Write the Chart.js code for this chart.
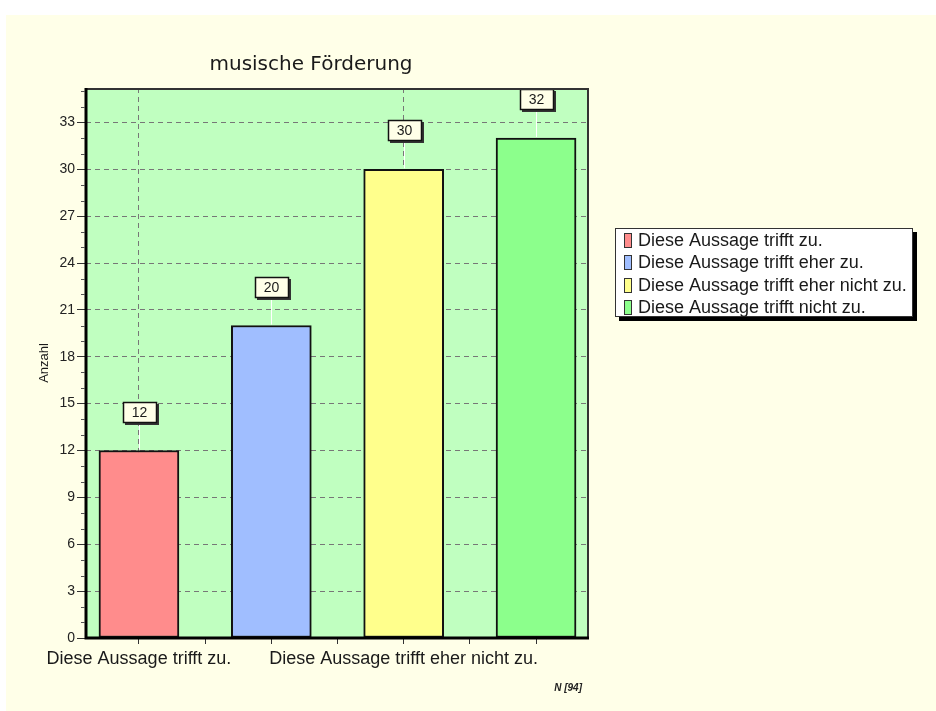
<!DOCTYPE html>
<html><head><meta charset="utf-8">
<script src="https://cdn.jsdelivr.net/npm/chart.js@4"></script>
<style>html,body{margin:0;padding:0;background:#fff;overflow:hidden}#wrap{width:936px;height:711px}</style>
</head><body><div id="wrap"><canvas id="c" width="936" height="711"></canvas></div>
<script>
const chartTitle = 'musische Förderung';
const categories = ['Diese Aussage trifft zu.', 'Diese Aussage trifft eher zu.', 'Diese Aussage trifft eher nicht zu.', 'Diese Aussage trifft nicht zu.'];
const counts = [12, 20, 30, 32];
const barColors = ['#FF8C8C', '#A0BEFF', '#FFFF8C', '#8CFF8C'];
const shownXLabels = [0, 2];
const yAxisTitle = 'Anzahl';
const footnote = 'N [94]';
const yMax = 35.2;
const yStep = 3;

Chart.defaults.font.family = '"Liberation Sans", Arial, sans-serif';

const decor = {
  id: 'decor',
  beforeDraw(chart) {
    const ctx = chart.ctx, ca = chart.chartArea;
    ctx.save();
    ctx.fillStyle = '#ffffff';
    ctx.fillRect(0, 0, chart.width, chart.height);
    ctx.fillStyle = '#FFFFE8';
    ctx.fillRect(6, 15, chart.width - 6, chart.height - 15);
    ctx.fillStyle = '#C0FFC0';
    ctx.fillRect(ca.left, ca.top, ca.right - ca.left, ca.bottom - ca.top);
    ctx.restore();
  },
  afterDatasetsDraw(chart) {
    const ctx = chart.ctx;
    const meta = chart.getDatasetMeta(0);
    ctx.save();
    meta.data.forEach((bar, i) => {
      const x = Math.round(bar.x) + 0.5, y = bar.y;
      const txt = String(counts[i]);
      ctx.font = '14px "Liberation Sans"';
      const tw = ctx.measureText(txt).width;
      const bw = Math.round(tw + 18), bh = 21;
      const bx = Math.round(x - bw / 2), by = Math.round(y - 28 - bh);
      ctx.strokeStyle = '#ffffff';
      ctx.lineWidth = 1;
      ctx.beginPath(); ctx.moveTo(x, y - 1); ctx.lineTo(x, by + bh); ctx.stroke();
      ctx.fillStyle = '#333';
      ctx.fillRect(bx + 2, by + 2, bw, bh);
      ctx.fillStyle = '#FFFFE8';
      ctx.fillRect(bx, by, bw, bh);
      ctx.strokeStyle = '#111';
      ctx.lineWidth = 1.5;
      ctx.strokeRect(bx + 0.5, by + 0.5, bw - 1, bh - 1);
      ctx.fillStyle = '#1a1a1a';
      ctx.textAlign = 'center';
      ctx.textBaseline = 'middle';
      ctx.fillText(txt, x, by + bh / 2 + 1);
    });
    ctx.restore();
  },
  afterDraw(chart) {
    const ctx = chart.ctx, ca = chart.chartArea;
    const ys = chart.scales.y;
    ctx.save();
    ctx.strokeStyle = '#333';
    ctx.lineWidth = 2;
    ctx.beginPath();
    ctx.moveTo(ca.left, ca.top + 1); ctx.lineTo(ca.right - 1, ca.top + 1); ctx.lineTo(ca.right - 1, ca.bottom);
    ctx.stroke();
    ctx.strokeStyle = '#000';
    ctx.lineWidth = 3;
    ctx.beginPath();
    ctx.moveTo(ca.left, ca.top); ctx.lineTo(ca.left, ca.bottom + 1.5);
    ctx.moveTo(ca.left - 1.5, ca.bottom); ctx.lineTo(ca.right, ca.bottom);
    ctx.stroke();
    ctx.strokeStyle = '#555';
    ctx.lineWidth = 1;
    ctx.beginPath();
    for (let v = 1; v < yMax; v++) {
      if (v % yStep === 0) continue;
      const py = Math.round(ys.getPixelForValue(v)) + 0.5;
      ctx.moveTo(ca.left - 5, py); ctx.lineTo(ca.left - 1, py);
    }
    ctx.stroke();
    ctx.fillStyle = '#1a1a1a';
    ctx.font = '20px "DejaVu Sans"';
    ctx.textAlign = 'center';
    ctx.textBaseline = 'alphabetic';
    ctx.fillText(chartTitle, 311, 70);
    ctx.save();
    ctx.translate(44, (ca.top + ca.bottom) / 2);
    ctx.rotate(-Math.PI / 2);
    ctx.font = '13px "Liberation Sans"';
    ctx.textBaseline = 'middle';
    ctx.fillText(yAxisTitle, 0, 0);
    ctx.restore();
    ctx.font = 'italic bold 10px "Liberation Sans"';
    ctx.textAlign = 'right';
    ctx.textBaseline = 'middle';
    ctx.fillStyle = '#222';
    ctx.fillText(footnote, 582, 688);
    const lx = 615, ly = 228, lw = 298, lh = 89;
    ctx.fillStyle = '#000';
    ctx.fillRect(lx + 4, ly + 4, lw, lh);
    ctx.fillStyle = '#fff';
    ctx.fillRect(lx, ly, lw, lh);
    ctx.strokeStyle = '#333';
    ctx.lineWidth = 1;
    ctx.strokeRect(lx + 0.5, ly + 0.5, lw - 1, lh - 1);
    ctx.font = '18px "Liberation Sans"';
    ctx.textAlign = 'left';
    ctx.textBaseline = 'middle';
    categories.forEach((c, i) => {
      const cy = ly + 12 + i * 22.4;
      ctx.fillStyle = barColors[i];
      ctx.fillRect(624.5, Math.round(cy - 7) + 0.5, 7, 14);
      ctx.strokeStyle = '#333';
      ctx.strokeRect(624.5, Math.round(cy - 7) + 0.5, 7, 14);
      ctx.fillStyle = '#1a1a1a';
      ctx.fillText(c, 638, cy + 1);
    });
    ctx.restore();
  }
};

new Chart(document.getElementById('c'), {
  type: 'bar',
  data: {
    datasets: [{
      data: counts.map((v, i) => ({ x: i, y: v })),
      backgroundColor: barColors,
      borderColor: '#111',
      borderWidth: 2,
      borderSkipped: false,
      barThickness: 80
    }]
  },
  options: {
    responsive: false,
    animation: false,
    devicePixelRatio: 1,
    layout: { padding: { left: 0, top: 88, right: 347, bottom: 0 } },
    plugins: { legend: { display: false }, title: { display: false }, tooltip: { enabled: false } },
    scales: {
      x: {
        type: 'linear',
        min: -0.4,
        max: 3.4,
        offset: false,
        afterFit(s) { s.height = 73; },
        border: { display: false, dash: [5, 4] },
        grid: {
          offset: false,
          color: (c) => (c.tick && shownXLabels.includes(c.tick.value)) ? '#777777' : 'rgba(0,0,0,0)',
          borderDash: [5, 4],
          tickColor: '#333',
          tickLength: 6,
          lineWidth: 1
        },
        ticks: {
          stepSize: 0.5,
          includeBounds: false,
          autoSkip: false,
          maxRotation: 0,
          minRotation: 0,
          padding: 4,
          color: '#1a1a1a',
          font: { size: 18 },
          callback: (v) => shownXLabels.includes(v) ? categories[v] : ''
        }
      },
      y: {
        min: 0,
        max: yMax,
        afterFit(s) { s.width = 86; },
        border: { display: false, dash: [5, 4] },
        grid: {
          color: (c) => (c.tick && c.tick.value === 0) ? 'rgba(0,0,0,0)' : '#777777',
          borderDash: [5, 4],
          tickColor: '#333',
          tickLength: 9,
          lineWidth: 1
        },
        ticks: {
          stepSize: yStep,
          includeBounds: false,
          padding: 2,
          color: '#222',
          font: { size: 14 }
        }
      }
    }
  },
  plugins: [decor]
});
</script>
</body></html>
